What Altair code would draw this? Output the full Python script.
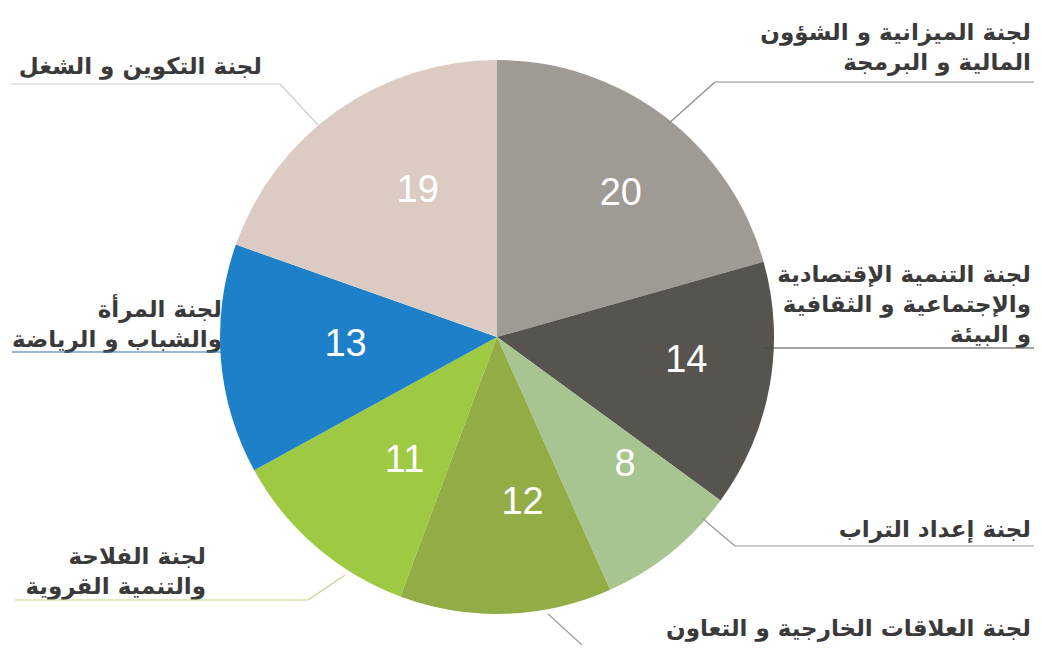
import altair as alt
import pandas as pd

committees = [
    "لجنة الميزانية و الشؤون المالية و البرمجة",
    "لجنة التنمية الإقتصادية والإجتماعية و الثقافية و البيئة",
    "لجنة إعداد التراب",
    "لجنة العلاقات الخارجية و التعاون",
    "لجنة الفلاحة والتنمية القروية",
    "لجنة المرأة والشباب و الرياضة",
    "لجنة التكوين و الشغل",
]
members = [20, 14, 8, 12, 11, 13, 19]
colors = ["#a09a95", "#57534f", "#a8c490", "#93ad46", "#9ec942", "#1e80c8", "#dccbc2"]
label_lines = [
    ["لجنة الميزانية و الشؤون", "المالية و البرمجة"],
    ["لجنة التنمية الإقتصادية", "والإجتماعية و الثقافية", "و البيئة"],
    ["لجنة إعداد التراب"],
    ["لجنة العلاقات الخارجية و التعاون"],
    ["لجنة الفلاحة", "والتنمية القروية"],
    ["لجنة المرأة", "والشباب و الرياضة"],
    ["لجنة التكوين و الشغل"],
]

df = pd.DataFrame({
    "committee": committees,
    "members": members,
    "order": list(range(len(members))),
})

CX, CY = 489, 329  # pie centre (chart px)

base = alt.Chart(df).encode(
    theta=alt.Theta("members:Q", stack=True),
    order=alt.Order("order:Q"),
)

pie = base.mark_arc(outerRadius=277, strokeWidth=0).encode(
    color=alt.Color("committee:N", scale=alt.Scale(domain=committees, range=colors), legend=None),
    x=alt.value(CX), y=alt.value(CY),
)

nums = base.mark_text(radius=172, fontSize=38, font="Liberation Sans", color="white",
                      baseline="middle").encode(
    text="members:Q",
    x=alt.value(CX + 20), y=alt.value(CY - 6),
)

# annotation layout: (right x, first baseline y, underline, leader)
layout = [
    (1023, 32, ((707, 74), (1026, 74)), ((707, 74), (660, 116)), "#8d8985"),
    (1023, 274, ((756, 340), (1026, 340)), None, "#4a4744"),
    (1023, 529, ((727, 538), (1026, 538)), ((727, 538), (694, 510)), "#9a9a9a"),
    (1023, 628, None, ((540, 606), (574, 637)), "#9a9a9a"),
    (198, 556, ((7, 592), (300, 592)), ((300, 592), (337, 567)), "#c4d48a"),
    (214, 309, ((4, 344), (214, 344)), None, "#2f6ea3"),
    (254, 66, ((2, 76), (272, 76)), ((272, 76), (310, 117)), "#cfcfcf"),
]

one = alt.Data(values=[{"a": 1}])
layers = [pie, nums]
for lines, (rx, by, ul, ld, lc) in zip(label_lines, layout):
    layers.append(
        alt.Chart(alt.Data(values=[{"t": "\n".join(lines)}])).mark_text(
            align="right", baseline="alphabetic", lineBreak="\n", lineHeight=30,
            font="DejaVu Sans", fontSize=23, fontWeight="bold", color="#3a3a3a",
        ).encode(text="t:N", x=alt.value(rx), y=alt.value(by))
    )
    for seg in (ul, ld):
        if seg is None:
            continue
        (x1, y1), (x2, y2) = seg
        layers.append(
            alt.Chart(one).mark_rule(color=lc, strokeWidth=1.2).encode(
                x=alt.value(x1), y=alt.value(y1), x2=alt.value(x2), y2=alt.value(y2)
            )
        )

chart = alt.layer(*layers).properties(
    width=1026, height=637, padding=0, background="white",
    autosize=alt.AutoSizeParams(type="none"),
).configure_view(stroke=None)

chart.save("out.html", embed_options={"renderer": "svg", "actions": False})
